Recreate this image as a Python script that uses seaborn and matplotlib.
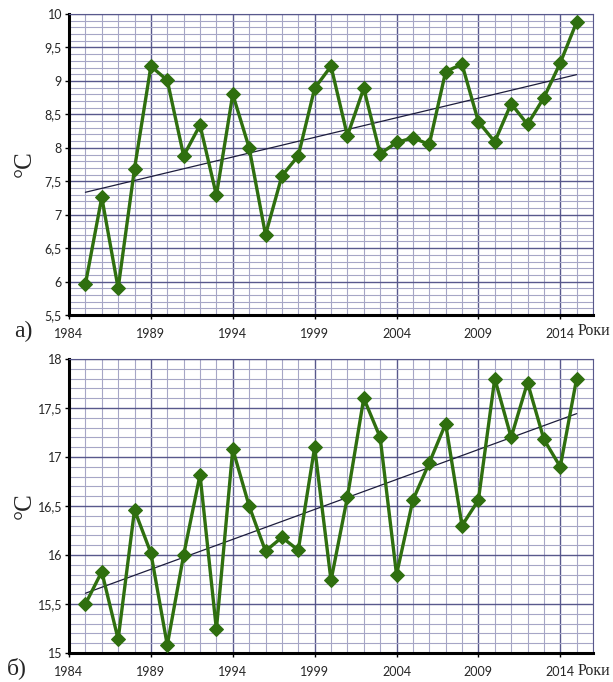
import numpy as np
import pandas as pd
import seaborn as sns
import matplotlib.pyplot as plt
from matplotlib.ticker import MultipleLocator, FuncFormatter

# Data
years = list(range(1985, 2016))
temp_a = [5.96, 7.26, 5.90, 7.69, 9.22, 9.01, 7.88, 8.34, 7.29, 8.80,
          8.00, 6.70, 7.58, 7.88, 8.89, 9.22, 8.18, 8.89, 7.91, 8.08,
          8.15, 8.05, 9.14, 9.25, 8.39, 8.09, 8.66, 8.35, 8.75, 9.27, 9.88]
temp_b = [15.50, 15.83, 15.14, 16.46, 16.02, 15.08, 16.00, 16.82, 15.24, 17.08,
          16.50, 16.04, 16.18, 16.05, 17.10, 15.74, 16.59, 17.60, 17.20, 15.80,
          16.56, 16.94, 17.34, 16.30, 16.56, 17.80, 17.20, 17.76, 17.18, 16.90, 17.80]
year_ticks = list(range(1984, 2015, 5))
panel_labels = ['а)', 'б)']
y_unit = '°C'
x_unit = 'Роки'

sns.set_style('white')
plt.rcParams['font.family'] = ['Lato', 'DejaVu Sans']

green = '#2f6f0f'
major_c = '#58588c'
minor_c = '#a6a6c6'


def comma_fmt(v, pos):
    s = f'{v:g}'
    return s.replace('.', ',')


def draw_panel(ax, vals, ylim):
    df = pd.DataFrame({'year': years, 'temp': vals})
    sns.regplot(data=df, x='year', y='temp', ax=ax, scatter=False, ci=None,
                line_kws=dict(color='#1c1c3c', lw=0.9, zorder=3))
    sns.lineplot(data=df, x='year', y='temp', ax=ax, color=green, lw=2.4,
                 marker='D', markersize=7, markeredgecolor=green, zorder=4)
    ax.set_xlim(1984, 2016)
    ax.set_ylim(*ylim)
    ax.set_xticks(year_ticks)
    ax.xaxis.set_minor_locator(MultipleLocator(1))
    ax.yaxis.set_major_locator(MultipleLocator(0.5))
    ax.yaxis.set_minor_locator(MultipleLocator(0.1))
    ax.yaxis.set_major_formatter(FuncFormatter(comma_fmt))
    ax.grid(which='major', color=major_c, lw=1.0, zorder=0)
    ax.grid(which='minor', color=minor_c, lw=0.8, zorder=0)
    ax.set_axisbelow(True)
    ax.set_xlabel('')
    ax.set_ylabel('')
    for side in ['left', 'bottom']:
        ax.spines[side].set_color('black')
        ax.spines[side].set_linewidth(2.2)
    for side in ['top', 'right']:
        ax.spines[side].set_color(major_c)
        ax.spines[side].set_linewidth(0.8)
    ax.tick_params(axis='both', which='major', length=3, width=1, color='black',
                   labelsize=9, pad=2, direction='out')
    ax.tick_params(axis='x', which='major', pad=6)
    ax.tick_params(which='minor', length=0)
    ax.yaxis.set_ticks_position('left')
    ax.xaxis.set_ticks_position('bottom')


fig = plt.figure(figsize=(6.13, 6.82), dpi=100)
ax1 = fig.add_axes([0.1126, 0.5381, 0.8548, 0.4413])
ax2 = fig.add_axes([0.1126, 0.0425, 0.8548, 0.4311])

draw_panel(ax1, temp_a, (5.5, 10))
draw_panel(ax2, temp_b, (15, 18))

serif = ['Liberation Serif', 'DejaVu Serif']
fig.text(0.04, 1 - 164 / 682, y_unit, rotation=90, fontsize=18, family=serif,
         ha='center', va='center')
fig.text(0.04, 1 - 506 / 682, y_unit, rotation=90, fontsize=18, family=serif,
         ha='center', va='center')
fig.text(0.038, 1 - 331 / 682, panel_labels[0], fontsize=17, family=serif,
         ha='center', va='center')
fig.text(0.028, 1 - 668 / 682, panel_labels[1], fontsize=17, family=serif,
         ha='center', va='center')
fig.text(578 / 613, 1 - 331 / 682, x_unit, fontsize=11.5, family=serif,
         ha='left', va='center')
fig.text(578 / 613, 1 - 671 / 682, x_unit, fontsize=11.5, family=serif,
         ha='left', va='center')

fig.savefig('out.png', dpi=100)
